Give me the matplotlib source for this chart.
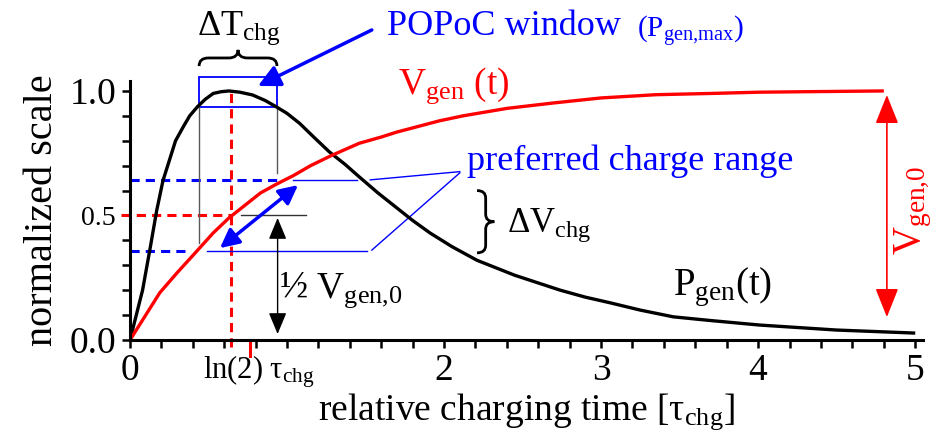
import matplotlib
matplotlib.use("Agg")
import matplotlib.pyplot as plt
from matplotlib.path import Path
from matplotlib.patches import PathPatch, Rectangle

plt.rcParams["font.family"] = ["Liberation Serif", "DejaVu Serif"]
plt.rcParams["mathtext.fontset"] = "custom"
plt.rcParams["mathtext.rm"] = "Liberation Serif"
plt.rcParams["mathtext.it"] = "Liberation Serif:italic"
plt.rcParams["mathtext.bf"] = "Liberation Serif:bold"

# values
v_t = [0, 0.10, 0.19, 0.30, 0.43, 0.53, 0.63, 0.73, 0.83, 0.93, 1.04, 1.15, 1.28,
       1.46, 1.60, 1.70, 1.85, 1.97, 2.12, 2.40, 2.70, 3.00, 3.35, 3.70, 4.0,
       4.30, 4.79]
v_gen = [0, 0.10, 0.19, 0.27, 0.36, 0.43, 0.49, 0.54, 0.59, 0.625, 0.66, 0.70, 0.74,
         0.79, 0.815, 0.835, 0.86, 0.88, 0.90, 0.93, 0.952, 0.972, 0.985, 0.99,
         0.995, 0.997, 1.0]

p_t = [0, 0.04, 0.08, 0.13, 0.17, 0.21, 0.25, 0.29, 0.34, 0.38, 0.43, 0.48, 0.53,
       0.58, 0.63, 0.70, 0.78, 0.86, 0.93, 1.00, 1.08, 1.17, 1.27, 1.37, 1.46,
       1.58, 1.70, 1.80, 1.91, 2.05, 2.21, 2.45, 2.74, 2.90, 3.06, 3.25, 3.46,
       3.70, 4.01, 4.50, 4.99]
p_gen = [0, 0.10, 0.20, 0.375, 0.52, 0.64, 0.72, 0.80, 0.857, 0.90, 0.937, 0.967,
         0.99, 0.997, 1.0, 0.995, 0.984, 0.962, 0.937, 0.91, 0.87, 0.815, 0.755,
         0.705, 0.655, 0.59, 0.53, 0.48, 0.43, 0.375, 0.32, 0.26, 0.20, 0.172,
         0.149, 0.12, 0.093, 0.078, 0.06, 0.04, 0.028]

charge_lo = 0.357       # preferred charge range, lower edge
charge_hi = 0.643       # preferred charge range, upper edge
t_half = 0.643          # t where V_gen = 0.5 in the drawing
popoc_t = [0.44, 0.936]  # POPoC window, time edges
popoc_p = [0.936, 1.056]  # POPoC window, power edges

x_ticks = [i * 0.2 for i in range(26)]
x_labels = {0: "0", 10: "2", 15: "3", 20: "4", 25: "5"}
y_ticks = [i * 0.1 for i in range(11)]
y_labels = {0: "0.0", 5: "0.5", 10: "1.0"}

RED = "#ff0000"
BLUE = "#0000ff"


def brace(ax, a, b, pos, size, horizontal=True, lw=2.0, color="black"):
    """Curly brace from a to b, drawn at pos, tip sticking out by size."""
    m = (a + b) / 2
    q = (b - a) * 0.12
    h = size / 2
    pts = [(a, pos), (a, pos + h), (a + q, pos + h), (m - q, pos + h),
           (m, pos + h), (m, pos + size), (m, pos + h), (m + q, pos + h),
           (b - q, pos + h), (b, pos + h), (b, pos)]
    codes = [Path.MOVETO, Path.CURVE3, Path.CURVE3, Path.LINETO,
             Path.CURVE3, Path.CURVE3, Path.CURVE3, Path.CURVE3,
             Path.LINETO, Path.CURVE3, Path.CURVE3]
    if not horizontal:
        pts = [(y, x) for x, y in pts]
    ax.add_patch(PathPatch(Path(pts, codes), fill=False, lw=lw,
                           color=color, clip_on=False))


fig = plt.figure(figsize=(9.5, 4.38), dpi=100)
ax = fig.add_axes([130 / 950, 98 / 438, 793 / 950, 259 / 438])
ax.set_xlim(0, 5.05)
ax.set_ylim(0, 1.04)

for s in ["top", "right"]:
    ax.spines[s].set_visible(False)
for s in ["left", "bottom"]:
    ax.spines[s].set_linewidth(2.2)

ax.set_xticks(x_ticks)
ax.set_xticklabels([x_labels.get(i, "") for i in range(len(x_ticks))])
ax.set_yticks(y_ticks)
ax.set_yticklabels([y_labels.get(i, "") for i in range(len(y_ticks))])
ax.tick_params(axis="both", length=6, width=1.8, labelsize=27, pad=4)
ax.get_yticklabels()[5].set_fontsize(20)

ax.set_xlabel(r"relative charging time [$\mathrm{τ_{chg}}$]", fontsize=27, labelpad=2)
ax.set_ylabel("normalized scale", fontsize=29, labelpad=6)
ax.text(0.82, -0.055, r"ln(2) $\mathrm{τ_{chg}}$", fontsize=22,
        ha="center", va="top")

# helper lines
ax.plot([0, popoc_t[1]], [charge_hi, charge_hi], color=BLUE, lw=2.2, ls=(0, (3, 2)))
ax.plot([0, 0.37], [charge_lo, charge_lo], color=BLUE, lw=2.2, ls=(0, (3, 2)))
ax.plot([-0.06, t_half], [0.5, 0.5], color=RED, lw=2.2, ls=(0, (3, 2)), clip_on=False)
ax.plot([t_half, t_half], [-0.03, 1.0], color=RED, lw=2.2, ls=(0, (3, 2)), clip_on=False)
ax.plot([0.765, 0.765], [0, -0.065], color=RED, lw=2.2, clip_on=False)

ax.plot([popoc_t[0], popoc_t[0]], [0.39, popoc_p[0]], color="0.35", lw=1.0)
ax.plot([popoc_t[1], popoc_t[1]], [0.67, popoc_p[0]], color="0.35", lw=1.0)
ax.add_patch(Rectangle((popoc_t[0], popoc_p[0]), popoc_t[1] - popoc_t[0],
                       popoc_p[1] - popoc_p[0], fill=False, ec=BLUE, lw=1.3,
                       clip_on=False))

ax.plot([1.04, 1.446], [charge_hi, charge_hi], color=BLUE, lw=1.0)
ax.plot([0.49, 1.51], [charge_lo, charge_lo], color=BLUE, lw=1.0)
ax.plot([1.53, 2.10], [0.643, 0.676], color=BLUE, lw=1.0)
ax.plot([1.54, 2.10], [0.361, 0.671], color=BLUE, lw=1.0)
ax.plot([0.707, 1.12], [0.5, 0.5], color="0.2", lw=1.0)

# curves
ax.plot(p_t, p_gen, color="black", lw=2.4)
ax.plot(v_t, v_gen, color=RED, lw=2.4)

# arrows
ax.annotate("", xy=(0.815, 1.02), xytext=(1.54, 1.245),
            arrowprops=dict(arrowstyle="-|>,head_length=0.6,head_width=0.3",
                            color=BLUE, lw=2.5, mutation_scale=22,
                            shrinkA=0, shrinkB=0), annotation_clip=False)
ax.annotate("", xy=(0.573, 0.369), xytext=(1.07, 0.622),
            arrowprops=dict(arrowstyle="<|-|>,head_length=0.6,head_width=0.3",
                            color=BLUE, lw=2.5, mutation_scale=19,
                            shrinkA=0, shrinkB=0))
ax.annotate("", xy=(0.94, 0.49), xytext=(0.94, 0.024),
            arrowprops=dict(arrowstyle="<|-|>,head_length=0.6,head_width=0.25",
                            color="black", lw=1.0, mutation_scale=22,
                            shrinkA=0, shrinkB=0))
ax.annotate("", xy=(4.82, 0.984), xytext=(4.82, 0.092),
            arrowprops=dict(arrowstyle="<|-|>,head_length=0.75,head_width=0.3",
                            color=RED, lw=1.2, mutation_scale=24,
                            shrinkA=0, shrinkB=0))

# braces
brace(ax, popoc_t[0], popoc_t[1], 1.10, 0.065, horizontal=True, lw=2.0)
brace(ax, 0.60, 0.35, 2.21, 0.11, horizontal=False, lw=2.0)

# text
ax.text(0.69, 1.225, r"$\mathrm{ΔT_{chg}}$", fontsize=26, ha="center",
        va="baseline")
ax.text(1.637, 1.225, "POPoC window", fontsize=26, color=BLUE, va="baseline")
ax.text(3.23, 1.215, r"($\mathrm{P_{gen{,}max}}$)", fontsize=21, color=BLUE,
        va="baseline")
ax.text(1.707, 0.988, r"$\mathrm{V_{gen}}$ (t)", fontsize=27, color=RED,
        va="baseline")
ax.text(2.146, 0.683, "preferred charge range", fontsize=26, color=BLUE,
        va="baseline")
ax.text(2.40, 0.434, r"$\mathrm{ΔV_{chg}}$", fontsize=25, va="baseline")
ax.text(0.95, 0.169, r"½ $\mathrm{V_{gen{,}0}}$", fontsize=27, va="baseline")
ax.text(3.46, 0.18, r"$\mathrm{P_{gen}(t)}$", fontsize=28, va="baseline")
ax.text(4.99, 0.52, r"$\mathrm{V_{gen{,}0}}$", fontsize=28, color=RED,
        rotation=90, ha="center", va="center")

fig.savefig("out.png", dpi=100)
